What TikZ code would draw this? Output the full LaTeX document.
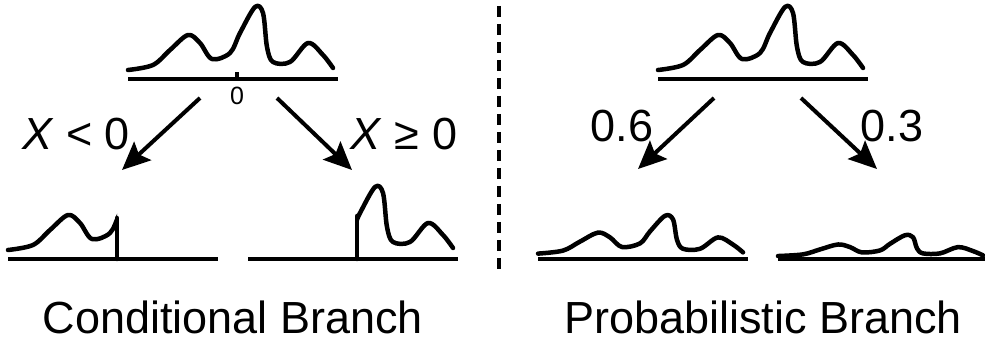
\documentclass[tikz,border=0pt]{standalone}
\usepackage{fontspec}
\setmainfont{Liberation Sans}
\usetikzlibrary{arrows.meta}

\tikzset{
    density/.pic={
        \draw[curve] plot[smooth, tension=0.55] coordinates {(0,-9) (25,-14) (42,-29) (60,-44) (72,-36) (84,-20) (102,-26) (112,-46) (127,-72) (135,-66) (139,-32) (145,-17) (162,-17) (180,-36) (195,-24) (205,-11)};
    }
}

\begin{document}
\begin{tikzpicture}[
            x=1pt, y=-1pt,
            curve/.style={line width=4.5pt, line join=round, line cap=round},
            axis/.style={line width=4pt},
            arrow/.style={-{Stealth[length=28pt,width=25pt,inset=5pt]}, line width=4pt},
            divider/.style={line width=4.5pt, dash pattern=on 11pt off 7pt},
            lbl/.style={font=\fontsize{45}{54}\selectfont, inner sep=0pt},
            tiny/.style={font=\fontsize{25}{30}\selectfont, inner sep=0pt}
        ]
            \useasboundingbox (0,0) rectangle (985,347);

            % conditional branch
            \pic at (128,79) {density};
            \draw[axis] (128,79) -- (338,79);
            \draw[axis] (237,79) -- (237,72);
            \node[tiny, anchor=base] (zero) at (237,105) {0};

            \begin{scope}
                \clip (0,150) rectangle (117,270);
                \pic at (8,259) {density};
            \end{scope}
            \draw[curve] (117,259) -- (117,218);
            \draw[axis] (8,259) -- (218,259);

            \begin{scope}
                \clip (357,150) rectangle (475,270);
                \pic at (248,259) {density};
            \end{scope}
            \draw[curve] (357,259) -- (357,216);
            \draw[axis] (248,259) -- (458,259);

            \coordinate (cl-a) at (200,98);
            \coordinate (cl-b) at (122,170);
            \coordinate (cr-a) at (277,98);
            \coordinate (cr-b) at (352,170);
            \draw[arrow] (cl-a) -- (cl-b);
            \draw[arrow] (cr-a) -- (cr-b);
            \node[lbl, anchor=base] (less) at (76,150) {\textit{X} < 0};
            \node[lbl, anchor=base] (geq) at (404,150) {\textit{X} ≥ 0};

            \draw[divider] (499,6) -- (499,271);

            % probabilistic branch
            \pic at (658,79) {density};
            \draw[axis] (658,79) -- (868,79);

            \pic[yscale=0.6] at (538,259) {density};
            \draw[axis] (538,259) -- (748,259);
            \pic[yscale=0.33] at (778,259) {density};
            \draw[axis] (778,259) -- (988,259);

            \coordinate (pl-a) at (714,98);
            \coordinate (pl-b) at (638,169);
            \coordinate (pr-a) at (801,98);
            \coordinate (pr-b) at (877,169);
            \draw[arrow] (pl-a) -- (pl-b);
            \draw[arrow] (pr-a) -- (pr-b);
            \node[lbl, anchor=base] (p6) at (622,142) {0.6};
            \node[lbl, anchor=base] (p3) at (892,142) {0.3};

            \node[lbl, anchor=base] (cond) at (233,333) {Conditional Branch};
            \node[lbl, anchor=base] (prob) at (763,333) {Probabilistic Branch};
        \end{tikzpicture}
\end{document}
